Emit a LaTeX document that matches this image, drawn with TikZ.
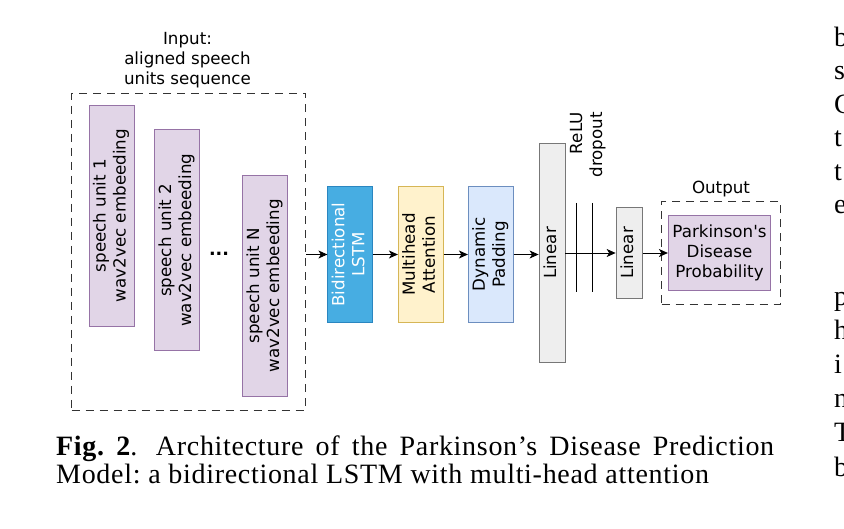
\documentclass[tikz,border=0pt]{standalone}
\usepackage{fontspec}
\usepackage{graphicx}
\setmainfont{DejaVu Sans}[Ligatures=TeXOff]
\newfontfamily\capfont[LetterSpace=2.5]{Liberation Serif}
\usetikzlibrary{arrows.meta}
\definecolor{embfill}{HTML}{E1D5E7}
\definecolor{embline}{HTML}{9673A6}
\definecolor{lstmfill}{HTML}{47ADE2}
\definecolor{lstmline}{HTML}{2A86C0}
\definecolor{attfill}{HTML}{FFF2CC}
\definecolor{attline}{HTML}{D6B656}
\definecolor{padfill}{HTML}{DAE8FC}
\definecolor{padline}{HTML}{6C8EBF}
\definecolor{linfill}{HTML}{EEEEEE}
\definecolor{linline}{HTML}{777777}
\newcommand\vlab[2][c]{\rotatebox{90}{\begin{tabular}{@{}#1@{}}#2\end{tabular}}}
\tikzset{
every node/.style={font=\fontsize{16.7}{20}\selectfont},
unit/.style={draw=embline,fill=embfill,line width=0.8pt,inner sep=0,minimum width=44.7pt,minimum height=221pt},
layer/.style={line width=0.8pt,inner sep=0,minimum width=45pt,minimum height=136pt},
group/.style={draw=black!80,dash pattern=on 8pt off 6pt,line width=0.9pt,inner sep=0},
flow/.style={-{Stealth[length=9pt,width=8pt,inset=2.5pt]},line width=0.9pt},
margin/.style={font=\capfont\fontsize{28}{30}\selectfont\frenchspacing,anchor=base west,inner sep=0}
}

\begin{document}
\begin{tikzpicture}[x=1pt,y=-1pt]
\useasboundingbox[fill=white] (0,0) rectangle (844,529);
\node[group,minimum width=234pt,minimum height=317pt] (InBox) at (188.7,251.5){};
\node[align=center] (InLabel) at (187.5,60.3){Input:\\aligned speech\\units sequence};
\node[unit] (Emb1) at (111.7,215.5){\vlab{speech unit 1\\wav2vec embeeding}};
\node[unit] (Emb2) at (177,240.3){\vlab{speech unit 2\\wav2vec embeeding}};
\node[unit] (EmbN) at (265.2,285.8){\vlab{speech unit N\\wav2vec embeeding}};
\node[font=\bfseries\fontsize{17.5}{20}\selectfont] (Dots) at (219,254){...};
\node[layer,draw=lstmline,fill=lstmfill,text=white] (LSTM) at (350.3,254.5){\vlab{Bidirectional\\LSTM}};
\node[layer,draw=attline,fill=attfill] (Attn) at (420.8,254.5){\vlab{Multihead\\Attention}};
\node[layer,draw=padline,fill=padfill] (Pad) at (490.8,254.5){\vlab{Dynamic\\Padding}};
\node[layer,draw=linline,fill=linfill,minimum width=26pt,minimum height=219.4pt] (Lin1) at (552,253){\vlab{Linear}};
\node[inner sep=0,anchor=north] (ReLU) at (588,112){\vlab[r]{ReLU\\dropout}};
\node[layer,draw=linline,fill=linfill,minimum width=26.3pt,minimum height=91pt] (Lin2) at (629.2,253){\vlab{Linear}};
\node[group,minimum width=119pt,minimum height=102.3pt] (OutBox) at (721.2,252.9){};
\node[draw=embline,fill=embfill,line width=0.8pt,align=center,inner sep=0,minimum width=102.4pt,minimum height=75pt] (Prob) at (719.5,253.2){Parkinson's\\Disease\\Probability};
\node (OutLabel) at (721,189.3){Output};
\draw[line width=0.9pt] (576,203) -- (576,291.7);
\draw[line width=0.9pt] (592.7,203) -- (592.7,291.7);
\draw [flow](InBox.east |- LSTM.west) -- (LSTM.west);
\draw [flow](LSTM.east) -- (LSTM.east -| Attn.west);
\draw [flow](Attn.east) -- (Attn.east -| Pad.west);
\draw [flow](Pad.east) -- (Pad.east -| Lin1.west);
\draw [flow](Lin1.east) -- (Lin1.east -| Lin2.west);
\draw [flow](Lin2.east) -- (Lin2.east -| Prob.west);
\node[margin] (Cap1) at (56,455){\hbox to 718pt{\textbf{Fig.\ 2}.\hskip 0.55em plus 0.1em Architecture of the Parkinson’s Disease Prediction}};
\node[margin] (Cap2) at (56,483){Model: a bidirectional LSTM with multi-head attention};
\node[margin] (M1) at (834,47){b};
\node[margin] (M2) at (834,80){s};
\node[margin] (M3) at (834,114){C};
\node[margin] (M4) at (834,147){t};
\node[margin] (M5) at (834,181){t};
\node[margin] (M6) at (834,214){e};
\node[margin] (M7) at (834,306){p};
\node[margin] (M8) at (834,340){h};
\node[margin] (M9) at (834,374){i};
\node[margin] (M10) at (834,408){n};
\node[margin] (M11) at (834,442){T};
\node[margin] (M12) at (834,476){b};
\end{tikzpicture}
\end{document}
